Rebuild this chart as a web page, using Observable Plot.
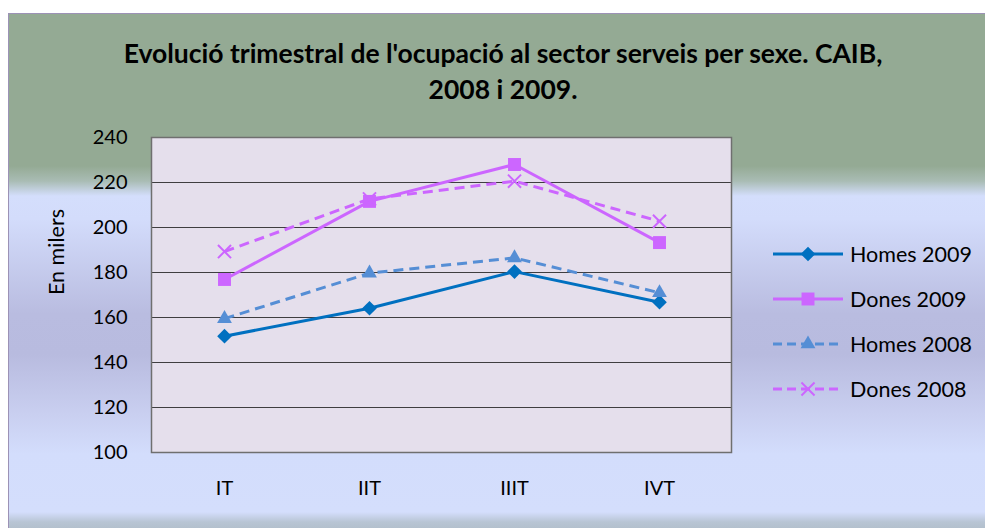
<!DOCTYPE html>
<html><head><meta charset="utf-8">
<script src="https://cdn.jsdelivr.net/npm/d3@7"></script>
<script src="https://cdn.jsdelivr.net/npm/@observablehq/plot@0.6"></script>
<style>
body{margin:0;background:#fff;}
#wrap{position:relative;width:985px;height:528px;overflow:hidden;font-family:Lato,"Open Sans",sans-serif;color:#000;}
#bg{position:absolute;left:8px;top:13px;width:990px;height:520px;border-top:1px solid #9c92b6;border-left:1px solid #9c92b6;
background:linear-gradient(to bottom,#94aa94 0px,#94aa94 152px,#a9bcb4 167px,#d4defc 182px,#d3dcfb 205px,#b9bce0 300px,#b8bbdf 340px,#c9cff0 400px,#d3ddfc 440px,#d4defc 498px,#b8c5d4 508px,#aebbc6 520px);}
#title{position:absolute;left:0;width:1006px;top:35px;text-align:center;font-weight:bold;font-size:26.5px;line-height:36px;}
#chart{position:absolute;left:0;top:0;}
#legend{position:absolute;left:773px;top:231px;}
.lg{display:flex;align-items:center;height:45px;font-size:21.5px;}
.lg svg{margin-right:5px;}
</style></head>
<body><div id="wrap"><div id="bg"></div><div id="title">Evolució trimestral de l'ocupació al sector serveis per sexe. CAIB,<br>2008 i 2009.</div><div id="chart"></div><div id="legend"></div></div>
<script>
const quarters = ["IT", "IIT", "IIIT", "IVT"];
const homes2009 = [151.7, 164.1, 180.4, 166.8];
const dones2009 = [176.9, 211.6, 228.0, 193.3];
const homes2008 = [159.5, 179.7, 186.5, 171.0];
const dones2008 = [189.3, 212.7, 220.6, 202.8];
const seriesNames = ["Homes 2009", "Dones 2009", "Homes 2008", "Dones 2008"];
const yTicks = [100, 120, 140, 160, 180, 200, 220, 240];
const yLabel = "En milers";

const seriesValues = [homes2009, dones2009, homes2008, dones2008];
const styles = [
  {color: "#0070c0", dash: null, symbol: "diamond2", r: 6.6, stroked: false},
  {color: "#cc66ff", dash: null, symbol: "square", r: 7.3, stroked: false},
  {color: "#558ed5", dash: "10,6", symbol: "triangle", r: 5.5, stroked: false},
  {color: "#cc66ff", dash: "10,6", symbol: "times", r: 6, stroked: true}
];
const rows = seriesNames.flatMap((s, i) => quarters.map((q, j) => ({series: s, q, v: seriesValues[i][j], idx: i})));

const marks = [
  Plot.frame({fill: "#e5dfec"}),
  Plot.gridY(yTicks.slice(1, -1), {y: d => d, stroke: "#222", strokeOpacity: 0.85, strokeWidth: 1.2}),
];
seriesNames.forEach((s, i) => {
  const st = styles[i];
  const data = rows.filter(d => d.series === s);
  marks.push(Plot.line(data, {x: "q", y: "v", stroke: st.color, strokeWidth: 3, strokeDasharray: st.dash, strokeLinecap: "butt"}));
  if (st.stroked) marks.push(Plot.dot(data, {x: "q", y: "v", symbol: st.symbol, r: st.r, stroke: st.color, strokeWidth: 2}));
  else marks.push(Plot.dot(data, {x: "q", y: "v", symbol: st.symbol, r: st.r, fill: st.color}));
});
marks.push(Plot.frame({stroke: "#6f6f6f", strokeWidth: 1.5}));
marks.push(Plot.axisY({ticks: yTicks, tickSize: 0, tickPadding: 24, label: null, fontSize: 20}));
marks.push(Plot.axisX({tickSize: 0, tickPadding: 28, label: null, fontSize: 20}));
marks.push(Plot.text([yLabel], {frameAnchor: "left", text: d => d, rotate: -90, dx: -94, fontSize: 21.5}));

const chart = Plot.plot({
  width: 985, height: 528,
  marginLeft: 151, marginRight: 254, marginTop: 137, marginBottom: 76,
  style: {background: "transparent", fontFamily: "Lato, 'Open Sans', sans-serif", color: "#000"},
  x: {type: "point", domain: quarters, padding: 0.5},
  y: {domain: [100, 240]},
  marks
});
document.getElementById("chart").appendChild(chart);

const legend = document.getElementById("legend");
seriesNames.forEach((s, i) => {
  const st = styles[i];
  const row = document.createElement("div");
  row.className = "lg";
  const ns = "http://www.w3.org/2000/svg";
  const svg = document.createElementNS(ns, "svg");
  svg.setAttribute("width", 72); svg.setAttribute("height", 20);
  const ln = document.createElementNS(ns, "line");
  ln.setAttribute("x1", 0); ln.setAttribute("x2", 70); ln.setAttribute("y1", 10); ln.setAttribute("y2", 10);
  ln.setAttribute("stroke", st.color); ln.setAttribute("stroke-width", 3);
  if (st.dash) ln.setAttribute("stroke-dasharray", "9,5");
  svg.appendChild(ln);
  const symMap = {diamond2: d3.symbolDiamond2, square: d3.symbolSquare, triangle: d3.symbolTriangle, times: d3.symbolTimes};
  const p = document.createElementNS(ns, "path");
  p.setAttribute("d", d3.symbol(symMap[st.symbol], Math.PI * st.r * st.r)());
  p.setAttribute("transform", "translate(35,10)");
  if (st.stroked) { p.setAttribute("fill", "none"); p.setAttribute("stroke", st.color); p.setAttribute("stroke-width", 2); }
  else p.setAttribute("fill", st.color);
  svg.appendChild(p);
  row.appendChild(svg);
  const t = document.createElement("span"); t.textContent = s;
  row.appendChild(t);
  legend.appendChild(row);
});
</script></body></html>
